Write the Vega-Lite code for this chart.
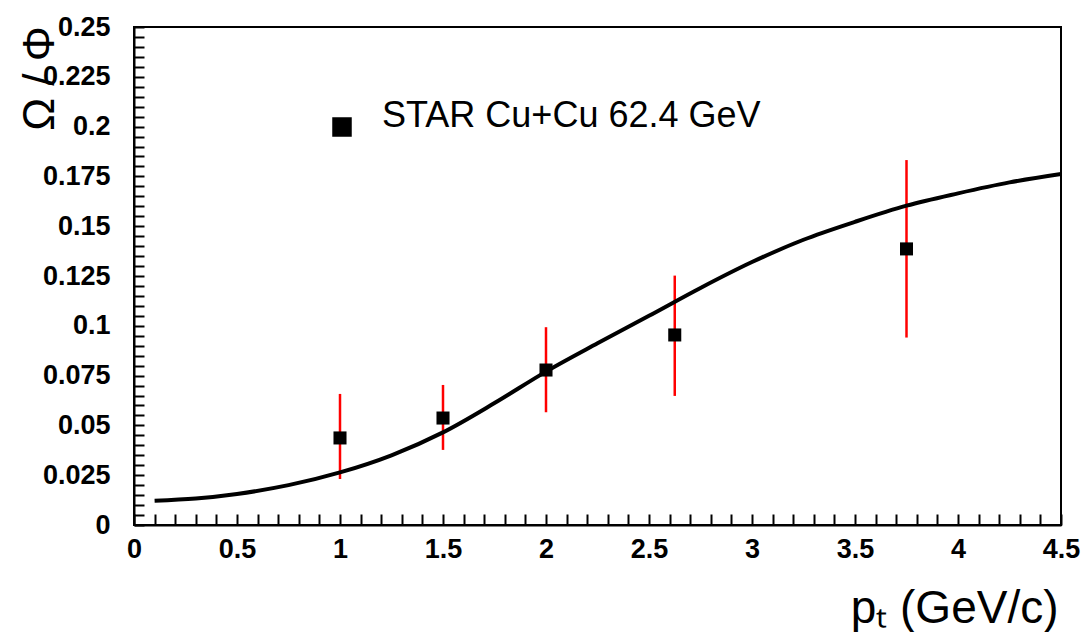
{
  "$schema": "https://vega.github.io/schema/vega-lite/v6.json",
  "width": 927,
  "height": 498,
  "autosize": {"type": "none"},
  "padding": {"left": 134, "top": 27, "right": 23, "bottom": 107},
  "background": "white",
  "config": {
    "view": {"stroke": "black", "strokeWidth": 2},
    "font": "Liberation Sans",
    "axis": {"labelOverlap": false, "labelBound": false, "labelFlush": false, "grid": false}
  },
  "resolve": {"axis": {"x": "independent", "y": "independent"}},
  "datasets": {
    "points": [
      {"pt": 1, "ratio": 0.0437, "lo": 0.0231, "hi": 0.0658, "label": "STAR Cu+Cu 62.4 GeV"},
      {"pt": 1.5, "ratio": 0.0537, "lo": 0.0377, "hi": 0.0703, "label": "STAR Cu+Cu 62.4 GeV"},
      {"pt": 2, "ratio": 0.0778, "lo": 0.0566, "hi": 0.0993, "label": "STAR Cu+Cu 62.4 GeV"},
      {"pt": 2.625, "ratio": 0.0954, "lo": 0.0648, "hi": 0.1252, "label": "STAR Cu+Cu 62.4 GeV"},
      {"pt": 3.75, "ratio": 0.1386, "lo": 0.0941, "hi": 0.1832, "label": "STAR Cu+Cu 62.4 GeV"}
    ],
    "curve": [
      {"pt": 0.1, "ratio": 0.0122},
      {"pt": 0.3, "ratio": 0.0133},
      {"pt": 0.5, "ratio": 0.0156},
      {"pt": 0.75, "ratio": 0.0200},
      {"pt": 1.0, "ratio": 0.0264},
      {"pt": 1.25, "ratio": 0.0350},
      {"pt": 1.5, "ratio": 0.0465},
      {"pt": 1.75, "ratio": 0.0612},
      {"pt": 2.0, "ratio": 0.0770},
      {"pt": 2.25, "ratio": 0.0912},
      {"pt": 2.5, "ratio": 0.1050},
      {"pt": 2.75, "ratio": 0.1190},
      {"pt": 3.0, "ratio": 0.1320},
      {"pt": 3.25, "ratio": 0.1432},
      {"pt": 3.5, "ratio": 0.1522},
      {"pt": 3.75, "ratio": 0.1603},
      {"pt": 4.0, "ratio": 0.1665},
      {"pt": 4.25, "ratio": 0.1720},
      {"pt": 4.5, "ratio": 0.1762}
    ]
  },
  "layer": [
    {
      "data": {"name": "points"},
      "mark": {"type": "rule", "color": "#ff0000", "strokeWidth": 2.5},
      "encoding": {
        "x": {
          "field": "pt", "type": "quantitative",
          "scale": {"domain": [0, 4.5], "nice": false, "zero": false},
          "axis": {
            "title": "pₜ (GeV/c)",
            "orient": "bottom",
            "values": [0,0.1,0.2,0.3,0.4,0.5,0.6,0.7,0.8,0.9,1,1.1,1.2,1.3,1.4,1.5,1.6,1.7,1.8,1.9,2,2.1,2.2,2.3,2.4,2.5,2.6,2.7,2.8,2.9,3,3.1,3.2,3.3,3.4,3.5,3.6,3.7,3.8,3.9,4,4.1,4.2,4.3,4.4,4.5],
            "labelExpr": "abs(datum.value*2 - round(datum.value*2)) < 1e-6 ? format(datum.value, '~g') : ''",
            "labelFont": "Liberation Sans", "labelFontSize": 27, "labelFontWeight": "bold", "labelColor": "black",
            "labelPadding": 22, "labelOverlap": false, "labelBound": false, "labelFlush": false,
            "ticks": true, "tickSize": -11, "tickColor": "black", "tickWidth": 2,
            "domainColor": "black", "domainWidth": 2, "grid": false,
            "encode": {"ticks": {"update": {"y2": {"signal": "abs(datum.value*2 - round(datum.value*2)) < 1e-6 ? -22 : -11"}}}},
            "titleFont": "Liberation Sans", "titleFontSize": 46, "titleFontWeight": "normal", "titleColor": "black",
            "titleX": 924, "titleY": 97, "titleAlign": "right", "titleBaseline": "alphabetic", "titleAnchor": "end"
          }
        },
        "y": {
          "field": "lo", "type": "quantitative",
          "scale": {"domain": [0, 0.25], "nice": false, "zero": false},
          "axis": {
            "title": "Ω / Φ",
            "orient": "left",
            "values": [0,0.005,0.01,0.015,0.02,0.025,0.03,0.035,0.04,0.045,0.05,0.055,0.06,0.065,0.07,0.075,0.08,0.085,0.09,0.095,0.1,0.105,0.11,0.115,0.12,0.125,0.13,0.135,0.14,0.145,0.15,0.155,0.16,0.165,0.17,0.175,0.18,0.185,0.19,0.195,0.2,0.205,0.21,0.215,0.22,0.225,0.23,0.235,0.24,0.245,0.25],
            "labelExpr": "abs(datum.value*40 - round(datum.value*40)) < 1e-6 ? format(datum.value, '~g') : ''",
            "labelFont": "Liberation Sans", "labelFontSize": 27, "labelFontWeight": "bold", "labelColor": "black",
            "labelPadding": 34, "labelOverlap": false, "labelBound": false, "labelFlush": false,
            "ticks": true, "tickSize": -10, "tickColor": "black", "tickWidth": 2,
            "domainColor": "black", "domainWidth": 2, "grid": false,
            "encode": {"ticks": {"update": {"x2": {"signal": "abs(datum.value*40 - round(datum.value*40)) < 1e-6 ? 18 : 10"}}}},
            "titleFont": "Liberation Sans", "titleFontSize": 44, "titleFontWeight": "normal", "titleColor": "black",
            "titleAngle": -90, "titleX": -81, "titleY": 51, "titleAlign": "center", "titleBaseline": "alphabetic"
          }
        },
        "y2": {"field": "hi"}
      }
    },
    {
      "data": {"name": "curve"},
      "mark": {"type": "line", "color": "black", "strokeWidth": 4, "interpolate": "monotone"},
      "encoding": {
        "x": {"field": "pt", "type": "quantitative", "axis": null},
        "y": {"field": "ratio", "type": "quantitative", "axis": null}
      }
    },
    {
      "data": {"name": "points"},
      "mark": {"type": "square", "filled": true, "size": 170, "opacity": 1},
      "encoding": {
        "x": {"field": "pt", "type": "quantitative", "axis": null},
        "y": {"field": "ratio", "type": "quantitative", "axis": null},
        "color": {
          "field": "label", "type": "nominal",
          "scale": {"range": ["black"]},
          "legend": {
            "orient": "none", "legendX": 190, "legendY": 82, "title": null,
            "symbolType": "square", "symbolSize": 324, "symbolFillColor": "black", "symbolStrokeColor": "black", "symbolOpacity": 1,
            "labelFont": "Liberation Sans", "labelFontSize": 36, "labelColor": "black",
            "labelOffset": 22, "labelBaseline": "alphabetic", "padding": 0, "rowPadding": 0, "labelLimit": 600
          }
        }
      }
    }
  ]
}
